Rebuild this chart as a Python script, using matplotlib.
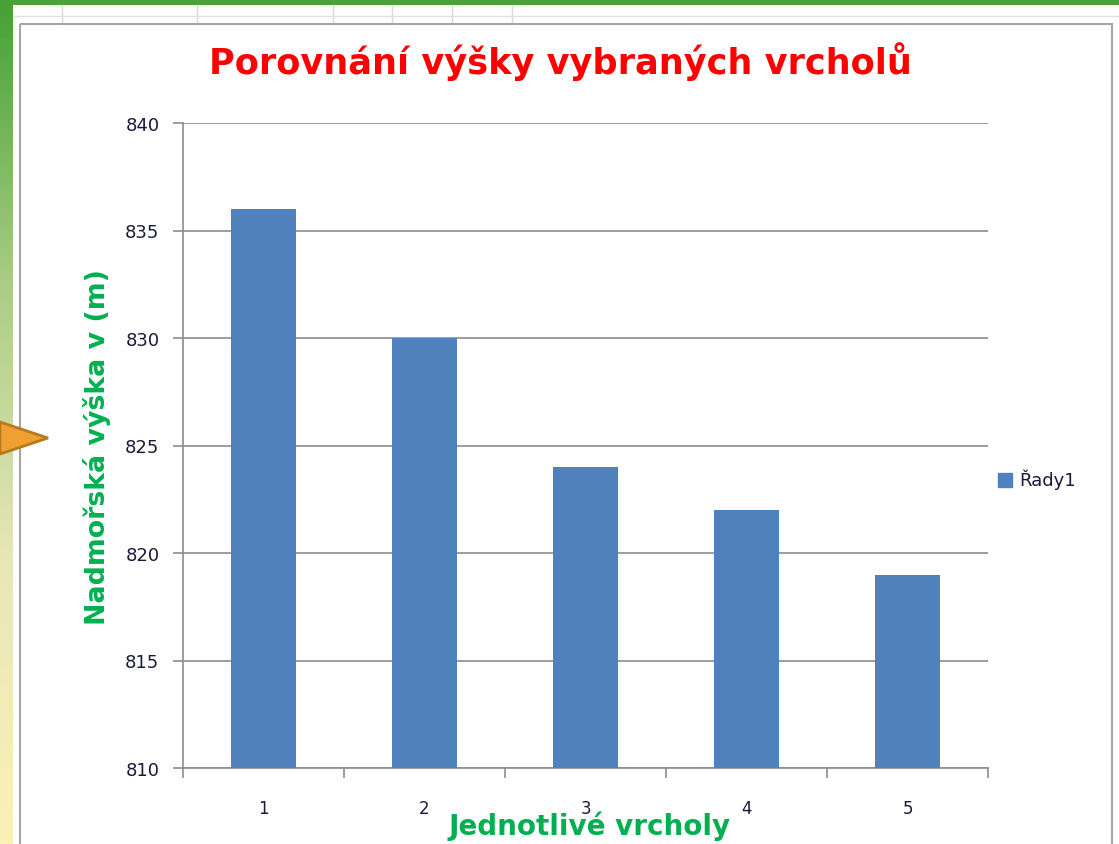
import matplotlib
matplotlib.use("Agg")
import matplotlib.pyplot as plt
import numpy as np
from matplotlib.patches import Rectangle, Polygon
from matplotlib.colors import LinearSegmentedColormap

categories = ["1", "2", "3", "4", "5"]
values = [836, 830, 824, 822, 819]
series_name = "Řady1"
title = "Porovnání výšky vybraných vrcholů"
xlabel = "Jednotlivé vrcholy"
ylabel = "Nadmořská výška v (m)"
yticks = [810, 815, 820, 825, 830, 835, 840]

W, H = 1119, 845
fig = plt.figure(figsize=(W / 100, H / 100), dpi=100)
fig.patch.set_facecolor("white")

def fx(x):
    return x / W

def fy(y):
    return 1 - y / H

# spreadsheet background decorations
bg = fig.add_axes([0, 0, 1, 1], zorder=-10)
bg.set_xlim(0, W)
bg.set_ylim(H, 0)
bg.axis("off")
for gx_px in [62, 197, 333, 392, 452, 512]:
    bg.plot([gx_px, gx_px], [6, 25], color="#d9d9d9", lw=1)
bg.plot([14, W], [17, 17], color="#e0e0e0", lw=1)
bg.add_patch(Rectangle((0, 0), W, 6, color="#4aa13c", lw=0))
grad = np.linspace(0, 1, 256).reshape(-1, 1)
cmap = LinearSegmentedColormap.from_list("g", ["#45a035", "#a9cc86", "#e8e7b8", "#fbf0b8"])
bg.imshow(grad, extent=(0, 13, H, 0), cmap=cmap, aspect="auto", origin="upper", zorder=1)
bg.add_patch(Rectangle((20, 25), 1092, 840, fill=False, edgecolor="#a6a6a6", lw=1.5, zorder=2))
bg.add_patch(Polygon([(0, 423), (48, 439), (0, 455)], closed=True,
                     facecolor="#f0a030", edgecolor="#b87a1e", lw=2, zorder=3))

# chart axes
left, right, top, bottom = 183, 988, 124, 769
ax = fig.add_axes([fx(left), fy(bottom), fx(right - left), (bottom - top) / H])
x = np.arange(len(categories))
ax.bar(x, values, width=0.4, color="#4f81bd", label=series_name, zorder=3)
ax.set_xlim(-0.5, len(categories) - 0.5)
ax.set_ylim(yticks[0], yticks[-1])
ax.set_yticks(yticks)
ax.yaxis.grid(True, color="#8c8c8c", lw=1.2, zorder=0)
ax.set_axisbelow(True)
for s in ["top", "right"]:
    ax.spines[s].set_visible(False)
for s in ["left", "bottom"]:
    ax.spines[s].set_color("#8c8c8c")
    ax.spines[s].set_linewidth(1.2)
ax.tick_params(axis="y", length=7, color="#8c8c8c", width=1.2, labelsize=13,
               labelcolor="#1a1a3a", pad=10)
ax.set_xticks(x)
ax.set_xticklabels(categories)
ax.set_xticks(np.arange(-0.5, len(categories)), minor=True)
ax.tick_params(axis="x", which="major", length=0, labelsize=12, labelcolor="#1a1a3a", pad=22)
ax.tick_params(axis="x", which="minor", length=7, color="#8c8c8c", width=1.2)

fig.text(fx(560), fy(62), title, ha="center", va="center", color="#ff0000",
         fontsize=25.3, fontweight="bold", family="DejaVu Sans")
fig.text(fx(590), fy(826), xlabel, ha="center", va="center", color="#00b050",
         fontsize=20, fontweight="bold", family="DejaVu Sans")
fig.text(fx(97), fy(447), ylabel, ha="center", va="center", color="#00b050",
         fontsize=19.3, fontweight="bold", family="DejaVu Sans", rotation=90)

# legend
fig.patches.append(Rectangle((fx(998), fy(488)), 14 / W, 14 / H, transform=fig.transFigure,
                             color="#4f81bd", figure=fig))
fig.text(fx(1019), fy(480), series_name, ha="left", va="center", color="#1a1a3a", fontsize=13)

fig.savefig("out.png", dpi=100)
